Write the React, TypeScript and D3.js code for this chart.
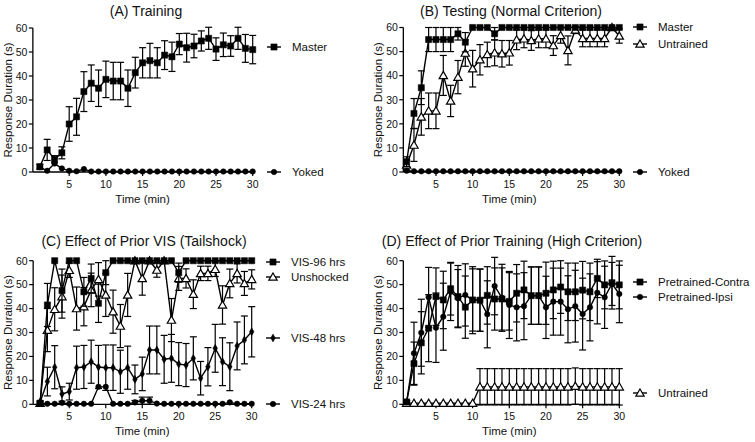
import React from 'react';
import * as d3 from 'd3';

const MINUTES = [1, 2, 3, 4, 5, 6, 7, 8, 9, 10, 11, 12, 13, 14, 15, 16, 17, 18, 19, 20, 21, 22, 23, 24, 25, 26, 27, 28, 29, 30];
const X_TICKS = [5, 10, 15, 20, 25, 30];
const Y_TICKS = [0, 10, 20, 30, 40, 50, 60];

// Panel A
const A_MASTER = [2.2, 9.2, 5.3, 8, 20, 23, 33.5, 37, 34.9, 38.6, 37.9, 37.9, 34.9, 41.4, 45.5, 46.4, 45.5, 48.7, 48, 53.3, 51.8, 52.5, 54.6, 55.7, 51.2, 53, 52.5, 55.7, 51.5, 51];
const A_MASTER_ERR = [1, 4.4, 1.5, 2.5, 7.2, 7.7, 8.3, 7.6, 7.6, 7.6, 7.8, 7.8, 7.6, 6.4, 6.3, 7.2, 6.3, 6, 6.1, 4.4, 6, 4.9, 4.2, 4.6, 4.7, 4.9, 4.3, 4.6, 5.8, 5.9];
const A_YOKED = [2, 0.5, 3.5, 1.5, 0.5, 0.3, 1.2, 0.2, 0.2, 0.2, 0.2, 0.2, 0.2, 0.2, 0.2, 0.2, 0.2, 0.2, 0.2, 0.2, 0.2, 0.2, 0.2, 0.2, 0.2, 0.2, 0.2, 0.2, 0.2, 0.2];

// Panel B
const B_MASTER = [4.3, 24.3, 35, 55, 55, 55, 55, 57.4, 53.9, 60, 60, 60, 57.4, 60, 60, 60, 60, 60, 60, 60, 60, 60, 60, 60, 60, 60, 60, 60, 60, 60];
const B_MASTER_ERR = [2, 6.2, 7, 5, 5, 5, 5, 2.6, 4, 0, 0, 0, 2.6, 0, 0, 0, 0, 0, 0, 0, 0, 0, 0, 0, 0, 0, 0, 0, 0, 0];
const B_UNTRAINED = [2.9, 11.2, 22.9, 25.4, 25.4, 40.1, 29.5, 39.4, 49.4, 42.9, 46.6, 48.8, 49.5, 49.1, 49.5, 54.9, 55.3, 54.6, 55.3, 55.3, 52.5, 56.7, 50.5, 59, 55.5, 55.5, 55.5, 55.5, 60, 56.5];
const B_UNTRAINED_ERR = [2, 6.8, 7.6, 7.4, 7.4, 8.3, 6.5, 6.9, 5.5, 7.6, 6.3, 5.1, 5.4, 5.5, 5.1, 4.1, 3.7, 4.1, 3.7, 3.7, 4.1, 3.2, 6, 1.5, 3.5, 3.5, 3.5, 3.5, 0, 3];
const B_YOKED = [0.5, 0.3, 0.3, 0.3, 0.3, 0.3, 0.3, 0.3, 0.3, 0.3, 0.3, 0.3, 0.3, 0.3, 0.3, 0.3, 0.3, 0.3, 0.3, 0.3, 0.3, 0.3, 0.3, 0.3, 0.3, 0.3, 0.3, 0.3, 0.3, 0.3];

// Panel C
const C_VIS96 = [0.5, 41.5, 60, 47.5, 60, 60, 47, 52.6, 42.2, 55, 60, 60, 60, 60, 60, 60, 60, 60, 60, 55, 60, 60, 60, 60, 60, 60, 60, 60, 60, 60];
const C_VIS96_ERR = [0.5, 9, 0, 9, 0, 0, 6, 6, 8, 5, 0, 0, 0, 0, 0, 0, 0, 0, 0, 4, 0, 0, 0, 0, 0, 0, 0, 0, 0, 0];
const C_UNSHOCKED = [0.5, 31, 39.7, 45, 56, 40, 40.8, 47.8, 52.2, 45.7, 38.7, 32.7, 45.7, 60, 52.6, 60, 56.1, 60, 35.2, 52.6, 52.6, 46, 54.7, 54.7, 56.4, 41.5, 50.5, 54.7, 50.5, 52.2];
const C_UNSHOCKED_ERR = [0.5, 9, 9, 9, 3, 9, 8, 7, 7, 9, 9, 9, 9, 0, 7, 0, 3, 0, 9, 5, 4, 6, 3, 3, 3, 8, 6, 4, 5, 4];
const C_VIS48 = [1, 9.5, 15.5, 4.3, 5.3, 15.3, 15.6, 17.8, 15.6, 15.3, 15.3, 13.6, 15.3, 10.4, 12.7, 22.7, 22.7, 18.8, 19.2, 16.8, 16.4, 19.2, 10.9, 15.7, 23.4, 17.8, 15.7, 24.4, 26.9, 30.3];
const C_VIS48_ERR = [0.5, 6, 9, 3, 3.5, 9, 9, 9, 9, 9.5, 9.5, 9, 9, 6, 7, 10, 10, 10, 10, 9, 9, 9, 7, 8, 10, 10, 10, 10, 10, 10.5];
const C_VIS24 = [0.3, 0.2, 0.2, 0.6, 0.2, 0.2, 0.2, 0.2, 7.3, 7.3, 0.2, 0.2, 0.2, 0.8, 1.5, 1.5, 0.3, 0.2, 0.2, 0.2, 0.2, 0.2, 0.2, 0.2, 0.2, 0.2, 0.8, 0.2, 0.2, 0.2];
const C_VIS24_ERR = [0, 0, 0, 0, 0, 0, 0, 0, 0, 0, 0, 0, 0, 0.8, 1.5, 1.5, 0, 0, 0, 0, 0, 0, 0, 0, 0, 0, 0, 0, 0, 0];

// Panel D
const D_CONTRA = [1, 17, 25.7, 31.8, 45, 43.6, 48.3, 45, 40.6, 43.6, 43.5, 45.5, 44, 44, 43, 46.4, 47.8, 45.4, 45.4, 46.4, 47.8, 49, 47, 47, 47.7, 47, 52.6, 49.9, 50.8, 49.9];
const D_CONTRA_ERR = [0.5, 9, 13, 14, 12, 12, 11, 13, 13, 13, 13, 12, 13, 13, 12, 12, 12, 12, 12, 13, 12, 11, 12, 12, 12, 12, 8, 10, 11, 10];
const D_IPSI = [1, 21.3, 29.9, 44.7, 32, 36.6, 47, 44.3, 45.7, 43.5, 43.5, 37.6, 49.4, 44.5, 41.5, 40.5, 41, 45.4, 45.4, 40.5, 42.9, 42.9, 39.7, 41, 37.7, 40.5, 46.6, 44.7, 50.3, 46.1];
const D_IPSI_ERR = [0.5, 13, 14, 12.5, 14.5, 14, 12, 12, 13, 14, 13, 14, 12, 14, 14, 14, 14, 12, 12, 13, 14, 14, 14, 15, 15, 14, 13, 13, 9, 12];
const D_UNTRAINED = [0.5, 0.5, 0.5, 0.5, 0.5, 0.5, 0.5, 0.5, 0.5, 0.5, 7.3, 7.3, 7.3, 7.3, 7.3, 7.3, 7.3, 7.3, 7.3, 7.3, 7.3, 7.3, 7.3, 7.6, 7.3, 7.3, 7.3, 7.3, 7.3, 7.3];
const D_UNTRAINED_ERR = [0, 0, 0, 0, 0, 0, 0, 0, 0, 0, 7.6, 7.6, 7.6, 7.6, 7.6, 7.6, 7.6, 7.6, 7.6, 7.6, 7.6, 7.6, 7.6, 7.6, 7.6, 7.6, 7.6, 7.6, 7.6, 7.6];

type Sym = 'square' | 'circle' | 'triangle' | 'diamond';
interface Series { name: string; values: number[]; errors?: number[]; sym: Sym; legendY: number; }
interface PanelCfg {
  title: string; titleX: number; titleY: number;
  x0: number; x30: number; top: number; bottom: number; axisStart: number;
  legendX: number; series: Series[];
}

const FONT = '"Liberation Sans", Arial, Helvetica, sans-serif';

function symbolPath(sym: Sym): string {
  switch (sym) {
    case 'square': return d3.symbol(d3.symbolSquare, 38)() as string;
    case 'circle': return d3.symbol(d3.symbolCircle, 24)() as string;
    case 'triangle': return d3.symbol(d3.symbolTriangle, 30)() as string;
    default: return d3.symbol(d3.symbolDiamond, 18)() as string;
  }
}

function Marker({ sym, x, y }: { sym: Sym; x: number; y: number }) {
  const open = sym === 'triangle';
  return (
    <path d={symbolPath(sym)} transform={`translate(${x},${y + (open ? 0.8 : 0)})`}
      fill={open ? '#fff' : '#000'} stroke="#000" strokeWidth={open ? 1.2 : 0.5} />
  );
}

function Panel({ cfg }: { cfg: PanelCfg }) {
  const x = d3.scaleLinear().domain([0, 30]).range([cfg.x0, cfg.x30]);
  const y = d3.scaleLinear().domain([0, 60]).range([cfg.bottom, cfg.top]);
  const ax = x(cfg.axisStart);
  const line = d3.line<number>().x((_, i) => x(MINUTES[i])).y((v) => y(v));
  const cap = 3.5;
  return (
    <g>
      <text x={cfg.titleX} y={cfg.titleY} textAnchor="middle" fontSize={14} fontFamily={FONT} fill="#111">{cfg.title}</text>
      {/* axes */}
      <line x1={ax} x2={ax} y1={y(0)} y2={y(60)} stroke="#000" strokeWidth={1.3} />
      <line x1={ax} x2={x(30) + 0.5} y1={y(0)} y2={y(0)} stroke="#000" strokeWidth={1.3} />
      {Y_TICKS.map((t) => (
        <g key={'y' + t}>
          <line x1={ax - 4} x2={ax} y1={y(t)} y2={y(t)} stroke="#000" strokeWidth={1.2} />
          <text x={ax - 5.5} y={y(t) + 3.8} textAnchor="end" fontSize={10.5} fontFamily={FONT} fill="#111">{t}</text>
        </g>
      ))}
      {X_TICKS.map((t) => (
        <g key={'x' + t}>
          <line x1={x(t)} x2={x(t)} y1={y(0)} y2={y(0) + 4} stroke="#000" strokeWidth={1.2} />
          <text x={x(t)} y={y(0) + 16} textAnchor="middle" fontSize={10.5} fontFamily={FONT} fill="#111">{t}</text>
        </g>
      ))}
      <text x={(cfg.x0 + cfg.x30) / 2} y={y(0) + 31} textAnchor="middle" fontSize={11.5} fontFamily={FONT} fill="#111">Time (min)</text>
      <text transform={`translate(${ax - 21},${(cfg.top + cfg.bottom) / 2}) rotate(-90)`} textAnchor="middle" fontSize={11.5} fontFamily={FONT} fill="#111">Response Duration (s)</text>
      {/* series */}
      {cfg.series.map((s) => (
        <g key={s.name}>
          {s.errors && s.values.map((v, i) => {
            const e = s.errors![i];
            if (!e) return null;
            const cx = x(MINUTES[i]);
            return (
              <g key={i} stroke="#000" strokeWidth={1.2}>
                <line x1={cx} x2={cx} y1={y(v - e)} y2={y(v + e)} />
                <line x1={cx - cap} x2={cx + cap} y1={y(v + e)} y2={y(v + e)} />
                <line x1={cx - cap} x2={cx + cap} y1={y(v - e)} y2={y(v - e)} />
              </g>
            );
          })}
          <path d={line(s.values) as string} fill="none" stroke="#000" strokeWidth={1.4} />
          {s.values.map((v, i) => <Marker key={i} sym={s.sym} x={x(MINUTES[i])} y={y(v)} />)}
          {/* legend */}
          <line x1={cfg.legendX} x2={cfg.legendX + 14} y1={s.legendY} y2={s.legendY} stroke="#000" strokeWidth={1.4} />
          <Marker sym={s.sym} x={cfg.legendX + 7} y={s.legendY} />
          <text x={cfg.legendX + 25} y={s.legendY + 4} fontSize={11.5} fontFamily={FONT} fill="#111">{s.name}</text>
        </g>
      ))}
    </g>
  );
}

const PANELS: PanelCfg[] = [
  {
    title: '(A) Training', titleX: 146, titleY: 16, x0: 32.5, x30: 252.7, top: 28, bottom: 172, axisStart: 0.05, legendX: 267,
    series: [
      { name: 'Yoked', values: A_YOKED, sym: 'circle', legendY: 172 },
      { name: 'Master', values: A_MASTER, errors: A_MASTER_ERR, sym: 'square', legendY: 47 },
    ],
  },
  {
    title: '(B) Testing (Normal Criterion)', titleX: 511, titleY: 16, x0: 399.3, x30: 619.3, top: 27.5, bottom: 172, axisStart: 0.55, legendX: 633,
    series: [
      { name: 'Untrained', values: B_UNTRAINED, errors: B_UNTRAINED_ERR, sym: 'triangle', legendY: 44 },
      { name: 'Master', values: B_MASTER, errors: B_MASTER_ERR, sym: 'square', legendY: 27 },
      { name: 'Yoked', values: B_YOKED, sym: 'circle', legendY: 172 },
    ],
  },
  {
    title: '(C) Effect of Prior VIS (Tailshock)', titleX: 144, titleY: 246, x0: 32.8, x30: 251.7, top: 260.7, bottom: 404.3, axisStart: 0.05, legendX: 266,
    series: [
      { name: 'VIS-24 hrs', values: C_VIS24, errors: C_VIS24_ERR, sym: 'circle', legendY: 404 },
      { name: 'VIS-48 hrs', values: C_VIS48, errors: C_VIS48_ERR, sym: 'diamond', legendY: 338 },
      { name: 'Unshocked', values: C_UNSHOCKED, errors: C_UNSHOCKED_ERR, sym: 'triangle', legendY: 277 },
      { name: 'VIS-96 hrs', values: C_VIS96, errors: C_VIS96_ERR, sym: 'square', legendY: 262 },
    ],
  },
  {
    title: '(D) Effect of Prior Training (High Criterion)', titleX: 512, titleY: 246, x0: 399.3, x30: 619.3, top: 260.7, bottom: 404.3, axisStart: 0.55, legendX: 633,
    series: [
      { name: 'Untrained', values: D_UNTRAINED, errors: D_UNTRAINED_ERR, sym: 'triangle', legendY: 393 },
      { name: 'Pretrained-Ipsi', values: D_IPSI, errors: D_IPSI_ERR, sym: 'circle', legendY: 297 },
      { name: 'Pretrained-Contra', values: D_CONTRA, errors: D_CONTRA_ERR, sym: 'square', legendY: 282 },
    ],
  },
];

export default function App() {
  return (
    <svg width={755} height={442} viewBox="0 0 755 442"
      style={{ position: 'fixed', left: 0, top: 0, background: '#fff', display: 'block' }}>
      <rect width={755} height={442} fill="#fff" />
      {PANELS.map((p) => <Panel key={p.title} cfg={p} />)}
    </svg>
  );
}
